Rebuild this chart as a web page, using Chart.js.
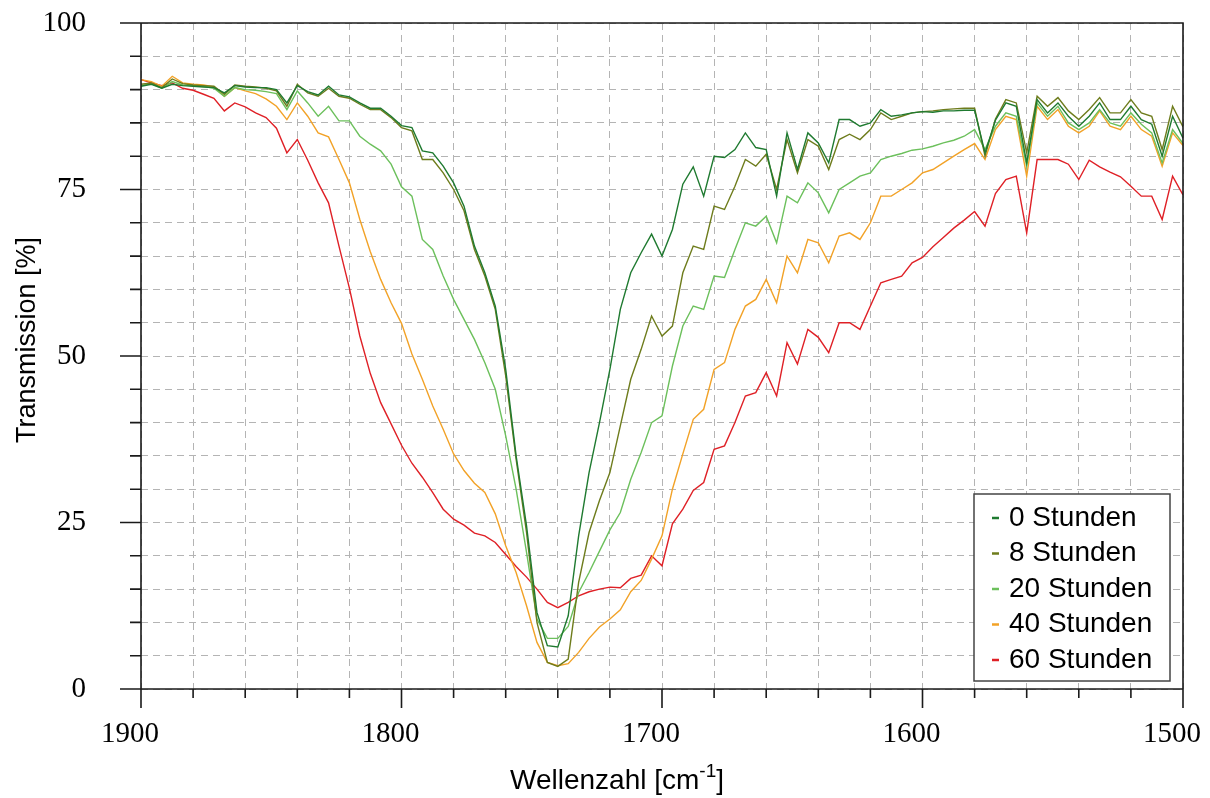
<!DOCTYPE html>
<html lang="de">
<head>
<meta charset="UTF-8">
<title>Transmission gegen Wellenzahl</title>
<script src="https://cdn.jsdelivr.net/npm/chart.js@4"></script>
<style>
  html, body { margin: 0; padding: 0; background: #fff; }
  #chart { display: block; }
</style>
</head>
<body>
<canvas id="chart" width="1210" height="798"></canvas>
<script>
// Wellenzahlen in cm-1 (1900 -> 1500, Schritt 4)
const waveNumbers = [
  1900, 1896, 1892, 1888, 1884, 1880, 1876, 1872, 1868, 1864,
  1860, 1856, 1852, 1848, 1844, 1840, 1836, 1832, 1828, 1824,
  1820, 1816, 1812, 1808, 1804, 1800, 1796, 1792, 1788, 1784,
  1780, 1776, 1772, 1768, 1764, 1760, 1756, 1752, 1748, 1744,
  1740, 1736, 1732, 1728, 1724, 1720, 1716, 1712, 1708, 1704,
  1700, 1696, 1692, 1688, 1684, 1680, 1676, 1672, 1668, 1664,
  1660, 1656, 1652, 1648, 1644, 1640, 1636, 1632, 1628, 1624,
  1620, 1616, 1612, 1608, 1604, 1600, 1596, 1592, 1588, 1584,
  1580, 1576, 1572, 1568, 1564, 1560, 1556, 1552, 1548, 1544,
  1540, 1536, 1532, 1528, 1524, 1520, 1516, 1512, 1508, 1504,
  1500
];

// Transmission in % je Messzeitpunkt
const hours0 = [
  90.5, 90.8, 90.2, 90.8, 90.6, 90.5, 90.4, 90.3, 89.5, 90.6,
  90.4, 90.3, 90.3, 90.0, 88.0, 90.6, 89.7, 89.2, 90.5, 89.2,
  88.9, 88.0, 87.2, 87.2, 86.0, 84.6, 84.3, 80.8, 80.5, 78.5,
  76.0, 72.5, 66.5, 62.5, 57.5, 48.0, 35.0, 24.5, 11.5, 6.5,
  6.3, 11.0, 23.0, 32.5, 40.0, 48.0, 57.0, 62.5, 65.5, 68.3,
  65.0, 69.0, 75.8, 78.4, 74.0, 80.0, 79.8, 81.0, 83.5, 81.3,
  81.0, 74.0, 83.5, 78.0, 83.5, 82.0, 79.0, 85.5, 85.5, 84.5,
  85.0, 87.0, 86.0, 86.2, 86.5, 86.7, 86.6, 86.8, 86.8, 86.9,
  86.9, 80.5, 85.4, 88.0, 87.5, 79.0, 88.5, 86.5, 88.0, 86.0,
  84.5, 86.0, 88.0, 85.5, 85.5, 87.5, 85.5, 84.8, 80.0, 86.0,
  82.7
];
const hours8 = [
  90.8, 91.0, 90.3, 91.6, 90.9, 90.7, 90.6, 90.5, 89.3, 90.7,
  90.5, 90.4, 90.2, 89.8, 87.5, 90.8, 89.5, 89.0, 90.2, 89.0,
  88.7, 87.8, 87.0, 87.0, 85.8, 84.3, 83.8, 79.5, 79.5, 77.5,
  75.0, 71.8, 66.0, 62.0, 57.0, 47.0, 34.5, 23.5, 10.0, 4.0,
  3.4, 4.5, 16.0, 23.5, 28.3, 32.5, 39.5, 46.5, 51.0, 56.0,
  53.0, 54.5, 62.5, 66.5, 66.0, 72.5, 72.0, 75.5, 79.5, 78.5,
  80.3, 75.0, 82.5, 77.5, 82.5, 81.5, 78.0, 82.5, 83.3, 82.5,
  84.0, 86.5, 85.5, 86.0, 86.5, 86.7, 86.8, 87.0, 87.1, 87.2,
  87.2, 80.0, 85.6, 88.5, 88.0, 80.5, 89.0, 87.5, 88.8, 86.8,
  85.5, 87.0, 88.8, 86.5, 86.5, 88.5, 86.5, 86.0, 81.0, 87.5,
  84.4
];
const hours20 = [
  90.6, 90.9, 90.2, 91.2, 90.7, 90.6, 90.5, 90.2, 89.0, 90.3,
  90.0, 89.9, 89.7, 89.4, 87.0, 89.8, 88.0, 86.0, 87.5, 85.3,
  85.3, 83.0, 81.8, 80.8, 78.8, 75.4, 74.0, 67.5, 66.0, 62.0,
  58.5, 55.5, 52.5, 49.0, 45.0, 38.0, 30.0, 20.5, 10.5, 7.6,
  7.6, 9.4, 14.5, 17.5, 20.7, 23.9, 26.5, 31.5, 35.5, 40.0,
  41.0, 48.5, 54.5, 57.5, 57.0, 62.0, 61.8, 66.0, 70.0, 69.5,
  71.0, 67.0, 74.0, 73.0, 76.0, 74.5, 71.5, 75.0, 76.0, 77.0,
  77.5, 79.5, 80.0, 80.4, 80.9, 81.1, 81.5, 82.0, 82.4, 83.0,
  84.0, 81.0, 84.5, 86.5, 86.0, 78.5, 88.0, 86.0, 87.5, 85.0,
  84.0, 85.0, 87.0, 85.0, 84.5, 86.5, 84.8, 83.5, 79.0, 84.0,
  81.9
];
const hours40 = [
  91.5, 91.2, 90.5, 92.0, 91.0, 90.8, 90.7, 90.4, 89.0, 90.3,
  89.8, 89.4, 88.6, 87.5, 85.5, 88.0, 86.0, 83.5, 82.9, 79.5,
  76.0, 70.5, 65.7, 61.5, 58.0, 54.9, 50.3, 46.5, 42.5, 39.0,
  35.3, 32.8, 30.9, 29.5, 26.3, 21.5, 17.5, 12.5, 7.0, 4.0,
  3.5, 3.8, 5.5, 7.6, 9.3, 10.5, 11.9, 14.6, 16.3, 19.5,
  23.0, 30.0, 35.3, 40.5, 42.0, 48.0, 49.0, 54.0, 57.5, 58.5,
  61.5, 58.0, 65.0, 62.5, 67.5, 67.0, 64.0, 68.0, 68.5, 67.5,
  70.0, 74.0, 74.0, 75.0, 76.0, 77.5, 78.0, 79.0, 80.0, 81.0,
  81.9, 79.5, 84.0, 86.0, 85.5, 77.0, 87.5, 85.5, 87.0, 84.5,
  83.5, 84.5, 86.8, 84.5, 84.0, 86.0, 84.0, 83.0, 78.5, 83.5,
  81.6
];
const hours60 = [
  91.5, 91.0, 90.6, 91.0, 90.2, 89.9, 89.3, 88.7, 86.8, 88.0,
  87.4, 86.5, 85.8, 84.2, 80.5, 82.5, 79.4, 76.0, 73.0, 66.5,
  60.2, 53.0, 47.4, 43.0, 39.8, 36.6, 33.9, 31.8, 29.5, 27.0,
  25.5, 24.6, 23.4, 23.0, 22.0, 20.2, 18.4, 16.8, 15.0, 13.0,
  12.2, 13.0, 14.0, 14.6, 15.0, 15.3, 15.2, 16.6, 17.1, 20.0,
  18.5, 24.8, 27.0, 29.8, 31.0, 36.0, 36.5, 40.0, 44.0, 44.5,
  47.5, 44.0, 52.0, 48.8, 54.0, 52.8, 50.5, 55.0, 55.0, 54.0,
  57.5, 61.0, 61.5, 62.0, 64.0, 64.8, 66.4, 67.8, 69.2, 70.4,
  71.7, 69.5, 74.4, 76.5, 77.0, 68.5, 79.5, 79.5, 79.5, 78.8,
  76.5, 79.4, 78.4, 77.6, 76.9, 75.5, 74.0, 74.0, 70.5, 77.0,
  74.2
];

const seriesLabels = ['0 Stunden', '8 Stunden', '20 Stunden', '40 Stunden', '60 Stunden'];
const seriesValues = [hours0, hours8, hours20, hours40, hours60];
const seriesColors = ['#1f7a30', '#6e7c1c', '#6cc05c', '#f2a227', '#df2026'];

const serif = 'Liberation Serif, "Times New Roman", serif';
const sans = 'Liberation Sans, Arial, sans-serif';

// Chart.js reserviert sonst Platz für überstehende Beschriftungen
function fixAxis(size) {
  return s => {
    if (s.isHorizontal()) s.height = size; else s.width = size;
    s.paddingTop = 0;
    s.paddingBottom = 0;
    s.paddingLeft = 0;
    s.paddingRight = 0;
  };
}

// Rahmen um den Plotbereich plus Teilstriche (lang bei beschrifteten Werten)
const frameAndTicks = {
  id: 'frameAndTicks',
  afterDatasetsDraw(chart) {
    const { ctx, chartArea: a, scales: { x, y } } = chart;
    ctx.save();
    ctx.strokeStyle = '#1a1a1a';
    ctx.lineWidth = 1.6;
    ctx.beginPath();
    ctx.rect(a.left, a.top, a.right - a.left, a.bottom - a.top);
    y.ticks.forEach(t => {
      const py = y.getPixelForValue(t.value);
      const len = t.value % 25 === 0 ? 21 : 11;
      ctx.moveTo(a.left - len, py);
      ctx.lineTo(a.left, py);
    });
    x.ticks.forEach(t => {
      const px = x.getPixelForValue(t.value);
      const len = t.value % 100 === 0 ? 19 : 9;
      ctx.moveTo(px, a.bottom);
      ctx.lineTo(px, a.bottom + len);
    });
    ctx.stroke();
    ctx.restore();
  }
};

// Achsentitel, cm-1 mit hochgestelltem Exponenten
const axisTitles = {
  id: 'axisTitles',
  afterDraw(chart) {
    const { ctx, chartArea: a } = chart;
    ctx.save();
    ctx.fillStyle = '#000';
    ctx.font = '27px ' + sans;
    ctx.textBaseline = 'middle';

    ctx.save();
    ctx.translate(28, (a.top + a.bottom) / 2 - 16);
    ctx.rotate(-Math.PI / 2);
    ctx.textAlign = 'center';
    ctx.fillText('Transmission [%]', 0, 0);
    ctx.restore();

    const mainFont = '28px ' + sans;
    const supFont = '19px ' + sans;
    const main = 'Wellenzahl [cm';
    const sup = '-1';
    const tail = ']';
    ctx.font = mainFont;
    const wMain = ctx.measureText(main).width;
    const wTail = ctx.measureText(tail).width;
    ctx.font = supFont;
    const wSup = ctx.measureText(sup).width;
    const cx = (a.left + a.right) / 2 - 45;
    const ty = 781;
    let tx = cx - (wMain + wSup + wTail) / 2;
    ctx.textAlign = 'left';
    ctx.font = mainFont;
    ctx.fillText(main, tx, ty);
    tx += wMain;
    ctx.font = supFont;
    ctx.fillText(sup, tx, ty - 9);
    tx += wSup;
    ctx.font = mainFont;
    ctx.fillText(tail, tx, ty);
    ctx.restore();
  }
};

// Legende als Kasten unten rechts im Plotbereich
const boxLegend = {
  id: 'boxLegend',
  afterDraw(chart) {
    const { ctx, chartArea: a } = chart;
    const w = 196, h = 187;
    const bx = a.right - 13 - w;
    const by = a.bottom - 8 - h;
    ctx.save();
    ctx.fillStyle = '#fff';
    ctx.fillRect(bx, by, w, h);
    ctx.strokeStyle = '#444';
    ctx.lineWidth = 1.5;
    ctx.strokeRect(bx, by, w, h);
    ctx.font = '28px ' + sans;
    ctx.textBaseline = 'middle';
    ctx.textAlign = 'left';
    chart.data.datasets.forEach((ds, i) => {
      const ry = by + 24 + i * 35.5;
      ctx.strokeStyle = ds.borderColor;
      ctx.lineWidth = 2.5;
      ctx.beginPath();
      ctx.moveTo(bx + 18, ry);
      ctx.lineTo(bx + 25, ry);
      ctx.stroke();
      ctx.fillStyle = '#000';
      ctx.fillText(ds.label, bx + 35, ry);
    });
    ctx.restore();
  }
};

const gridColor = '#b4b4b4';

new Chart(document.getElementById('chart'), {
  type: 'line',
  data: {
    datasets: seriesLabels.map((label, k) => ({
      label,
      data: waveNumbers.map((w, i) => ({ x: w, y: seriesValues[k][i] })),
      borderColor: seriesColors[k],
      borderWidth: 1.4,
      pointRadius: 0,
      tension: 0,
      fill: false
    }))
  },
  options: {
    responsive: false,
    devicePixelRatio: 1,
    animation: false,
    layout: { padding: { left: 0, right: 27, top: 23, bottom: 0 }, autoPadding: false },
    plugins: { legend: { display: false }, tooltip: { enabled: false } },
    scales: {
      x: {
        type: 'linear',
        reverse: true,
        min: 1500,
        max: 1900,
        afterFit: fixAxis(109),
        ticks: {
          stepSize: 20,
          maxTicksLimit: 30,
          autoSkip: false,
          maxRotation: 0,
          labelOffset: -11,
          padding: 28,
          color: '#000',
          font: { family: serif, size: 29 },
          callback: v => (v % 100 === 0 ? String(v) : '')
        },
        grid: { color: gridColor, lineWidth: 1, drawTicks: false },
        border: { display: false, dash: [7, 5] }
      },
      y: {
        min: 0,
        max: 100,
        afterFit: fixAxis(141),
        ticks: {
          stepSize: 5,
          maxTicksLimit: 30,
          autoSkip: false,
          padding: 55,
          color: '#000',
          font: { family: serif, size: 29 },
          callback: v => (v % 25 === 0 ? String(v) : '')
        },
        grid: { color: gridColor, lineWidth: 1, drawTicks: false },
        border: { display: false, dash: [7, 5] }
      }
    }
  },
  plugins: [frameAndTicks, axisTitles, boxLegend]
});
</script>
</body>
</html>
